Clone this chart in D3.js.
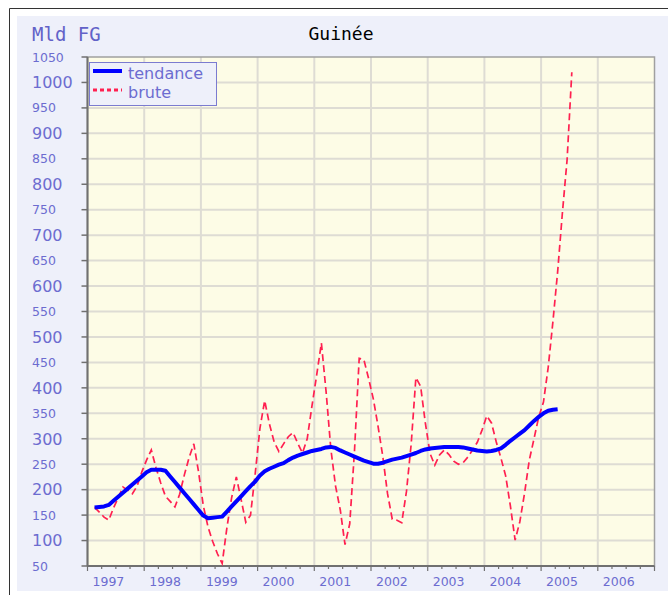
<!DOCTYPE html>
<html>
<head>
<meta charset="utf-8">
<script src="https://cdn.jsdelivr.net/npm/d3@7"></script>
<style>
  html, body { margin: 0; padding: 0; background: #ffffff; }
  svg { display: block; }
</style>
</head>
<body>
<svg id="chart" width="668" height="595"></svg>
<script>
// Guinée – monthly series, Feb 1997 onwards (Mld FG)
const years = ["1997", "1998", "1999", "2000", "2001", "2002", "2003", "2004", "2005", "2006"];
const yTicks = [50, 100, 150, 200, 250, 300, 350, 400, 450, 500, 550, 600, 650, 700, 750, 800, 850, 900, 950, 1000, 1050];
const firstMonth = 1; // months counted from January 1997

// raw series ("brute")
const brute = [
  165, 156, 146, 140, 164, 184, 205, 199, 192, 207,
  235, 258, 278, 243, 213, 187, 177, 166, 191, 229,
  263, 290, 235, 169, 127, 98, 74, 55, 125, 184,
  225, 181, 136, 150, 232, 321, 375, 329, 294, 275,
  290, 304, 312, 291, 272, 300, 364, 425, 488, 392,
  280, 207, 160, 92, 133, 275, 458, 455, 418, 378,
  324, 265, 192, 142, 140, 135, 196, 289, 420, 403,
  331, 271, 248, 268, 278, 269, 256, 250, 253, 264,
  278, 293, 317, 345, 331, 294, 262, 227, 168, 101,
  137, 193, 258, 300, 343, 372, 440, 530, 628, 743,
  848, 1020
];

// trend series ("tendance")
const tendance = [
  165, 166, 167, 170, 178, 186, 194, 202, 210, 218,
  226, 234, 239, 239, 239, 237, 226, 215, 204, 193,
  182, 171, 160, 149, 144, 145, 146, 147, 157, 167,
  177, 187, 197, 207, 216, 228, 236, 241, 245, 249,
  252, 258, 263, 267, 270, 273, 276, 278, 280, 283,
  284, 282, 277, 273, 269, 265, 261, 257, 254, 251,
  251, 253, 256, 259, 261, 263, 266, 269, 272, 276,
  279, 281, 282, 283, 284, 284, 284, 284, 283, 281,
  279, 277, 276, 275, 276, 278, 281, 288, 296, 303,
  310, 317, 326, 335, 343, 350, 355, 357, 358
];

const svg = d3.select("#chart");
const labelColor = "#6c6cd0";
const plot = { left: 87.5, right: 654.5, top: 57, bottom: 566 };

const x = d3.scaleLinear().domain([0, years.length * 12]).range([plot.left, plot.right]);
const y = d3.scaleLinear().domain([50, 1050]).range([plot.bottom, plot.top]);

// outer frame and panel
svg.append("path")
  .attr("d", "M9.5,595 V8.5 H668")
  .attr("fill", "none").attr("stroke", "#333").attr("stroke-width", 1);
svg.append("rect")
  .attr("x", 17).attr("y", 16).attr("width", 651).attr("height", 575)
  .attr("fill", "#eef0fa");

// plot background
svg.append("rect")
  .attr("x", plot.left).attr("y", plot.top)
  .attr("width", plot.right - plot.left).attr("height", plot.bottom - plot.top)
  .attr("fill", "#fdfce6");

// grid
const grid = svg.append("g").attr("stroke", "#dedcd4").attr("stroke-width", 2);
grid.selectAll("line.h").data(yTicks.slice(1, -1)).join("line")
  .attr("x1", plot.left).attr("x2", plot.right)
  .attr("y1", d => y(d)).attr("y2", d => y(d));
grid.selectAll("line.v").data(d3.range(1, years.length)).join("line")
  .attr("x1", d => x(d * 12)).attr("x2", d => x(d * 12))
  .attr("y1", plot.top).attr("y2", plot.bottom);

// plot border
svg.append("rect")
  .attr("x", plot.left).attr("y", plot.top)
  .attr("width", plot.right - plot.left).attr("height", plot.bottom - plot.top)
  .attr("fill", "none").attr("stroke", "#a0a0a0").attr("stroke-width", 1.5);

// y axis
const yAxis = svg.append("g");
yAxis.append("line")
  .attr("x1", plot.left).attr("x2", plot.left)
  .attr("y1", plot.top).attr("y2", plot.bottom)
  .attr("stroke", "#707070").attr("stroke-width", 2);
yAxis.selectAll("line.t").data(yTicks).join("line")
  .attr("x1", plot.left - 6).attr("x2", plot.left)
  .attr("y1", d => y(d)).attr("y2", d => y(d))
  .attr("stroke", "#707070").attr("stroke-width", 1.5);
yAxis.selectAll("text").data(yTicks).join("text")
  .attr("x", 32)
  .attr("y", d => y(d))
  .attr("dy", "0.36em")
  .attr("font-family", "DejaVu Sans, Verdana, sans-serif")
  .attr("font-size", d => d % 100 === 0 ? 16 : 12.5)
  .attr("fill", labelColor)
  .text(d => d);

// x axis
const xAxis = svg.append("g");
xAxis.append("line")
  .attr("x1", plot.left).attr("x2", plot.right)
  .attr("y1", plot.bottom).attr("y2", plot.bottom)
  .attr("stroke", "#707070").attr("stroke-width", 2);
xAxis.selectAll("line.q").data(d3.range(0, years.length * 4 + 1)).join("line")
  .attr("x1", d => x(d * 3)).attr("x2", d => x(d * 3))
  .attr("y1", plot.bottom).attr("y2", d => plot.bottom + (d % 4 === 0 ? 5 : 3))
  .attr("stroke", "#707070").attr("stroke-width", 1.2);
xAxis.selectAll("text").data(years).join("text")
  .attr("x", (d, i) => x(i * 12) + 5)
  .attr("y", 586)
  .attr("font-family", "DejaVu Sans, Verdana, sans-serif")
  .attr("font-size", 12.5)
  .attr("fill", labelColor)
  .text(d => d);

// titles
svg.append("text")
  .attr("x", 32).attr("y", 41)
  .attr("font-family", "DejaVu Sans Mono, monospace")
  .attr("font-size", 19)
  .attr("fill", "#6262c8")
  .text("Mld FG");
svg.append("text")
  .attr("x", 341).attr("y", 40)
  .attr("text-anchor", "middle")
  .attr("font-family", "DejaVu Sans Mono, monospace")
  .attr("font-size", 18)
  .attr("fill", "#000")
  .text("Guinée");

// series
const lineFor = () => d3.line()
  .x((d, i) => x(firstMonth + i + 0.5))
  .y(d => y(d));

svg.append("path")
  .datum(brute)
  .attr("d", lineFor())
  .attr("fill", "none")
  .attr("stroke", "#ff2050")
  .attr("stroke-width", 1.7)
  .attr("stroke-dasharray", "7,4");

svg.append("path")
  .datum(tendance)
  .attr("d", lineFor())
  .attr("fill", "none")
  .attr("stroke", "#0000ff")
  .attr("stroke-width", 4)
  .attr("stroke-linejoin", "round");

// legend
const legend = svg.append("g");
legend.append("rect")
  .attr("x", 89.5).attr("y", 62.5).attr("width", 127).attr("height", 43)
  .attr("fill", "#eef0fa").attr("stroke", "#7b7bd0").attr("stroke-width", 1);
const legendItems = [
  { label: "tendance", color: "#0000ff", dash: null, width: 4 },
  { label: "brute", color: "#ff2050", dash: "4,3", width: 3 }
];
legendItems.forEach((item, i) => {
  const cy = 72 + i * 19;
  legend.append("line")
    .attr("x1", 93).attr("x2", 122).attr("y1", cy - 1).attr("y2", cy - 1)
    .attr("stroke", item.color).attr("stroke-width", item.width)
    .attr("stroke-dasharray", item.dash);
  legend.append("text")
    .attr("x", 128).attr("y", cy + 1)
    .attr("dy", "0.36em")
    .attr("font-family", "DejaVu Sans, Verdana, sans-serif")
    .attr("font-size", 16)
    .attr("fill", labelColor)
    .text(item.label);
});
</script>
</body>
</html>
